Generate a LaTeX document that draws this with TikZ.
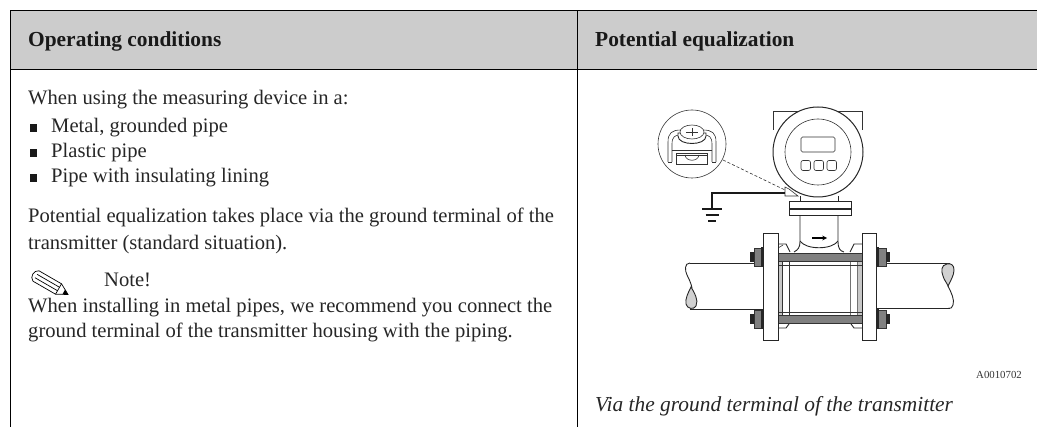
\documentclass[tikz,border=0pt]{standalone}
\usepackage{fontspec}
\setmainfont{Liberation Serif}
\definecolor{headgray}{gray}{0.8}
\definecolor{boltgray}{gray}{0.5}
\definecolor{dropgray}{gray}{0.82}
\tikzset{
 x=1pt,y=-1pt,
 rule/.style={line width=1pt,black},
 txt/.style={anchor=base west,inner sep=0pt,font=\fontsize{20.6}{24}\selectfont,text=black!85},
 headtxt/.style={anchor=base west,inner sep=0pt,font=\fontsize{21.4}{24}\selectfont\bfseries,text=black!90},
 captxt/.style={anchor=base west,inner sep=0pt,font=\fontsize{21.4}{24}\selectfont\itshape,text=black!85},
 codetxt/.style={anchor=base west,inner sep=0pt,font=\fontsize{10.8}{12}\selectfont,text=black!80},
 ln/.style={line width=0.9pt,draw=black!85},
 thinln/.style={line width=0.6pt,draw=black!80},
 bullet/.style={fill=black!90},
}
\begin{document}
\begin{tikzpicture}
\useasboundingbox (0,0) rectangle (1037,427);
\fill[headgray] (10,11) rectangle (1037,70);
\draw[rule] (10,11) -- (1037,11);
\draw[rule] (10,70) -- (1037,70);
\draw[rule] (10,11) -- (10,427);
\draw[rule] (577,11) -- (577,427);
\node[headtxt] (h1) at (28,47) {Operating conditions};
\node[headtxt] (h2) at (595,47) {Potential equalization};
\node[txt] (t1) at (28,105) {When using the measuring device in a:};
\foreach \y/\s/\n in {133/Metal{,} grounded pipe/a,158/Plastic pipe/b,183/Pipe with insulating lining/c}{
 \fill[bullet] (30,\y-9) rectangle (37,\y-1);
 \node[txt] (b\n) at (51,\y) {\s};
}
\node[txt] (t2) at (28,223) {Potential equalization takes place via the ground terminal of the};
\node[txt] (t3) at (28,250) {transmitter (standard situation).};
\node[txt] (t4) at (104,287) {Note!};
\node[txt] (t5) at (28,313) {When installing in metal pipes, we recommend you connect the};
\node[txt] (t6) at (28,338) {ground terminal of the transmitter housing with the piping.};
% pencil
\begin{scope}[shift={(36,276)},rotate=-30,line width=0.7pt]
\draw (0,-6) -- (26,-6) -- (37,0) -- (26,6) -- (0,6) .. controls (-5,4) and (-5,-4) .. (0,-6);
\draw (0,-2) -- (26,-2) (0,2) -- (26,2);
\draw (26,-6) -- (26,6);
\fill (32,-2.7) -- (37,0) -- (32,2.7) -- cycle;
\end{scope}
\node[codetxt] (code) at (976,379) {A0010702};
\node[captxt] (cap) at (595,412) {Via the ground terminal of the transmitter};
% circle detail
\draw[thinln] (692,144) circle (34);
\draw[thinln] (668,162) -- (668,142) .. controls (668,133) and (672,130) .. (681,130);
\draw[thinln] (716,162) -- (716,142) .. controls (716,133) and (712,130) .. (703,130);
\draw[thinln] (672,162) -- (672,144) .. controls (672,137) and (675,135) .. (680,135);
\draw[thinln] (712,162) -- (712,144) .. controls (712,137) and (709,135) .. (704,135);
\draw[thinln] (668,162) -- (672,162) (716,162) -- (712,162);
\draw[thinln] (672,150) -- (712,150);
\draw[ln,fill=white] (678,136) .. controls (678,146) and (706,146) .. (706,136) -- (706,133) -- (678,133) -- cycle;
\draw[thinln,fill=white] (692,132) ellipse (12 and 7);
\draw[thinln] (686,132) -- (698,132) (692,128) -- (692,136);
\draw[thinln] (676,153) rectangle (707,164);
\draw[thinln] (676,155) -- (707,155);
\draw[thinln] (685,155) .. controls (686,162) and (698,162) .. (699,155);
\coordinate (dashA) at (723,160);
\coordinate (dashB) at (785,190);
\draw[thinln,dash pattern=on 3pt off 2pt] (dashA) -- (dashB);
% housing
\draw[thinln] (773,130) -- (773,111) -- (862,111) -- (862,130);
\draw[line width=1pt,draw=black!85,fill=white] (818,152) circle (45);
\draw[thinln] (818,152) circle (33);
\draw[thinln,rounded corners=1.5pt] (801,137) rectangle (835,152);
\foreach \x in {801,814,827}{\draw[thinln,rounded corners=2pt] (\x,160.5) rectangle (\x+9.5,170.5);}
% terminal
\draw[thinln,fill=white] (785,196) -- (785,187) -- (789,189) -- (798,196) -- cycle;
% ground
\coordinate (gnd) at (712,193);
\draw[line width=1.3pt,draw=black!90] (785,193) -- (712,193) -- (712,209);
\draw[line width=1.3pt,draw=black!90] (702,209) -- (722,209);
\draw[line width=1.3pt,draw=black!90] (705.5,215) -- (718.5,215);
\draw[line width=1.3pt,draw=black!90] (708,221) -- (716,221);
% neck
\draw[ln] (800,196) -- (800,201) (838,196) -- (838,201);
\draw[line width=1pt,draw=black!85,fill=white] (789,201.5) rectangle (851,216);
\draw[line width=1.3pt,draw=black!85] (789,209) -- (851,209);
\draw[ln] (800,216) -- (800,242) .. controls (800,247) and (798,250) .. (794,252);
\draw[ln] (838,216) -- (838,242) .. controls (838,248) and (840,251) .. (844,252);
\draw[ln] (800,241) .. controls (806,250) and (832,250) .. (838,241);
\draw[-stealth,line width=1.1pt] (812,238) -- (827,238);
% pipe left
\draw[ln] (690,263) -- (764,263);
\draw[ln] (690,309) -- (764,309);
\draw[ln] (690,263) .. controls (684,263) and (685,271) .. (687,275) .. controls (689,279) and (691,283) .. (692,288);
\draw[ln,fill=dropgray] (691,287) .. controls (688,293) and (685,299) .. (686,304) .. controls (687,309) and (694,310) .. (696,306) .. controls (699,300) and (694,292) .. (691,287) -- cycle;
% pipe right
\draw[ln] (876,263) -- (950,263);
\draw[ln] (876,308.5) -- (950,308.5);
\draw[ln] (948,286) .. controls (951,292) and (955,300) .. (953,305) .. controls (952,308) and (951,308.5) .. (948,308.5);
\draw[ln,fill=dropgray] (947,264) .. controls (941,265) and (941,271) .. (943,276) .. controls (944,280) and (947,283) .. (948,286) .. controls (951,280) and (954,275) .. (954,270) .. controls (954,265) and (951,263) .. (947,264) -- cycle;
% body
\fill[black!22] (778,262) rectangle (782,315);
\fill[black!22] (857,262) rectangle (862,315);
\draw[thinln] (782,262) -- (782,315) (789,262) -- (789,315);
\draw[line width=0.7pt,draw=black!55] (850,262) -- (850,315) (857,262) -- (857,315);
\draw[thinln] (778,265) -- (862,265) (778,312) -- (862,312);
\draw[thinln,fill=boltgray] (778,253) rectangle (862,261.5);
\draw[thinln,fill=boltgray] (778,315) rectangle (862,323.5);
% shoulders
\draw[ln] (778,244) -- (786,244) -- (790,252);
\draw[thinln] (778,248) -- (783,245);
\draw[ln] (862,244) -- (854,244) -- (850,252);
\draw[ln] (778,328) -- (786,328) -- (789,324);
\draw[ln] (862,328) -- (854,328) -- (851,324);
% flanges
\foreach \x/\n in {763.5/l,862/r}{\draw[ln,fill=white] (\x,233) rectangle (\x+14.5,340);}
% nuts
\foreach \y in {257,319}{
 \draw[thinln,fill=boltgray] (754,\y-9) rectangle (762,\y+9);
 \fill[black!85] (750,\y-5) rectangle (754,\y+5);
 \fill[black!85] (761,\y-10) rectangle (763.5,\y+10);
 \draw[thinln,fill=boltgray] (878,\y-9) rectangle (886,\y+9);
 \fill[black!85] (886,\y-5) rectangle (889.5,\y+5);
 \fill[black!85] (876,\y-10) rectangle (878.5,\y+10);
}
\end{tikzpicture}
\end{document}
